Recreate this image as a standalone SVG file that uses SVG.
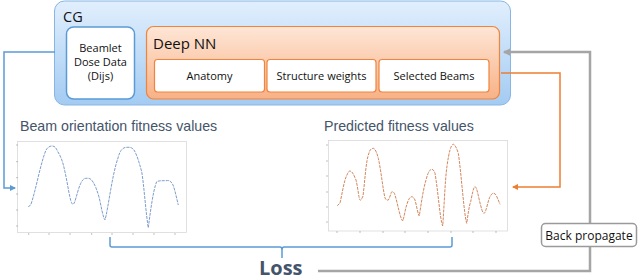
<svg xmlns="http://www.w3.org/2000/svg" width="640" height="279" viewBox="0 0 640 279">
<defs>
<linearGradient id="gBlue" x1="0" y1="0" x2="0" y2="1">
<stop offset="0" stop-color="#e1effd"/>
<stop offset="1" stop-color="#a3cbf2"/>
</linearGradient>
<linearGradient id="gOrange" x1="0" y1="0" x2="0" y2="1">
<stop offset="0" stop-color="#fee6d6"/>
<stop offset="1" stop-color="#f8b186"/>
</linearGradient>
<marker id="aBlue" viewBox="0 0 6 6" refX="5" refY="3" markerWidth="4" markerHeight="4" orient="auto">
<path d="M0,0 L6,3 L0,6 z" fill="#5b9bd5"/>
</marker>
<marker id="aOrange" viewBox="0 0 6 6" refX="5" refY="3" markerWidth="4" markerHeight="4" orient="auto">
<path d="M0,0 L6,3 L0,6 z" fill="#ed7d31"/>
</marker>
<marker id="aGray" viewBox="0 0 6 6" refX="5" refY="3" markerWidth="3" markerHeight="3" orient="auto">
<path d="M0,0 L6,3 L0,6 z" fill="#a5a5a5"/>
</marker>
</defs>
<style>
text{font-family:"Open Sans","Liberation Sans",sans-serif;}
.inner{fill:#fff;stroke:#f0843c;stroke-width:1.2;}
.lbl{font-size:11px;fill:#111;text-anchor:middle;}
.title{font-family:"Liberation Sans",Arial,sans-serif;font-size:14.2px;fill:#44546a;}
.frame{fill:#fff;stroke:#d9d9d9;stroke-width:0.8;}
.tick{stroke:#999;stroke-width:0.6;}
</style>

<g id="cg">
<rect x="54.5" y="1" width="456" height="104" rx="10" fill="url(#gBlue)" stroke="#88b6e2" stroke-width="1"/>
<text x="63" y="22" font-size="14.5" fill="#111">CG</text>
</g>

<g id="beamlet">
<rect x="66.5" y="27" width="68" height="72" rx="7" fill="#fff" stroke="#5b9bd5" stroke-width="1.5"/>
<text class="lbl" x="100.5" y="52">Beamlet</text>
<text class="lbl" x="100.5" y="66">Dose Data</text>
<text class="lbl" x="100.5" y="80">(Dijs)</text>
</g>

<g id="deepnn">
<rect x="146.5" y="26.5" width="353" height="72.5" rx="7" fill="url(#gOrange)" stroke="#f0843c" stroke-width="1.2"/>
<text x="153" y="49" font-size="15" fill="#111">Deep NN</text>
</g>

<g id="anatomy">
<rect class="inner" x="154.5" y="59.5" width="110" height="32.5" rx="3"/>
<text class="lbl" x="209.5" y="79.5">Anatomy</text>
</g>
<g id="structure">
<rect class="inner" x="267" y="59.5" width="109" height="32.5" rx="3"/>
<text class="lbl" x="321.5" y="79.5">Structure weights</text>
</g>
<g id="beams">
<rect class="inner" x="379" y="59.5" width="110" height="32.5" rx="3"/>
<text class="lbl" x="434" y="79.5">Selected Beams</text>
</g>

<g id="plot-left">
<text class="title" x="20" y="131">Beam orientation fitness values</text>
<rect class="frame" x="17.5" y="141.5" width="169" height="91"/>
<g class="tick">
<line x1="16" y1="145" x2="18" y2="145"/><line x1="16" y1="161.7" x2="18" y2="161.7"/><line x1="16" y1="177.7" x2="18" y2="177.7"/><line x1="16" y1="194" x2="18" y2="194"/><line x1="16" y1="210" x2="18" y2="210"/><line x1="16" y1="226" x2="18" y2="226"/>
<line x1="28.7" y1="233" x2="28.7" y2="235"/><line x1="49" y1="233" x2="49" y2="235"/><line x1="70" y1="233" x2="70" y2="235"/><line x1="91.7" y1="233" x2="91.7" y2="235"/><line x1="112" y1="233" x2="112" y2="235"/><line x1="133" y1="233" x2="133" y2="235"/><line x1="154" y1="233" x2="154" y2="235"/><line x1="175" y1="233" x2="175" y2="235"/>
</g>
<path fill="none" stroke="#7d9dcc" stroke-width="1" stroke-dasharray="3 1" d="M28.3,206.7 L30.7,205 C36,190 40,165 46,150 C48,147 50,146 52,146 C55,146 56,148 58,152 C61,157 63,162 65,172 C68,185 70,203 72.7,204.3 C75,205 77,192 80,185 C82,180 84,178.3 86,178.3 C89,178 91,178.5 93,182 C95,185 97,190 99,197 C101,205 103,218 105,220 C108,210 112,175 118,158 C120,150 123,147.3 127,147.3 C130,147 132,147.5 134,150 C137,155 139,162 141.7,171.7 C144,185 146,215 148.3,227.7 C150,215 153,190 156.7,181.7 C158,180.7 162,180.7 166,180.7 C169,180 171,181 173,185 C175,190 177,200 178.3,205"/>
</g>

<g id="plot-right">
<text class="title" x="324" y="131">Predicted fitness values</text>
<rect class="frame" x="328.5" y="140.5" width="179" height="90.5"/>
<g class="tick">
<line x1="326" y1="145" x2="328" y2="145"/><line x1="326" y1="161" x2="328" y2="161"/><line x1="326" y1="176" x2="328" y2="176"/><line x1="326" y1="192" x2="328" y2="192"/><line x1="326" y1="207" x2="328" y2="207"/><line x1="326" y1="222" x2="328" y2="222"/>
<line x1="337" y1="231" x2="337" y2="233"/><line x1="360" y1="231" x2="360" y2="233"/><line x1="383" y1="231" x2="383" y2="233"/><line x1="405" y1="231" x2="405" y2="233"/><line x1="428" y1="231" x2="428" y2="233"/><line x1="451" y1="231" x2="451" y2="233"/><line x1="473" y1="231" x2="473" y2="233"/><line x1="496" y1="231" x2="496" y2="233"/>
</g>
<path fill="none" stroke="#d4875e" stroke-width="1" stroke-dasharray="3 1" d="M337.3,205.7 L340,203 C342,195 344,180 347,175 C348,172 349,171 350,171 C352,171 354,175 356,180 C358,188 359,200 360,200 C361,201 362,198 363,196 C365,180 366,160 369,153 C370,149 372,148.3 373.3,148.3 C375,148.3 377,153 378.3,158.3 C381,170 383,190 385,198 C386,200 387,200.5 388.3,200 C390,198 391,191.7 392,191.7 C393.5,191.7 394.5,193 395,195 C398,205 400,218 402.7,221 C404,218 405,210 406.7,205 C408,200 410,196.7 411.7,196.7 C413,196.7 414,198 415,200 C416.5,205 418,215 419.3,216 C421,205 423,190 426,180 C428,172 430,169.3 431.7,169.3 C433,169.3 434.5,171 435,173.3 C438,190 440,220 442.7,226 C444,210 445,180 447,166 C449,152 451,144.3 453.3,144.3 C455,144.3 457,149 458.3,153.3 C461,170 464,215 466.7,223.3 C468,215 469,206 470.7,201.7 C472,195 473.5,186.7 475,186.7 C476.5,186.7 478,194 479.3,200 C481,207 482.5,213.3 484,213.3 C486,213.3 488,200 490,196.7 C491,195 492,193.3 493.3,193.3 C494.5,193.3 495.5,194 496,195 C498,199 499,202 500,204.3"/>
</g>

<g id="connectors" fill="none">
<polyline points="55,52 4,52 4,188 15,188" stroke="#5b9bd5" stroke-width="1.5" marker-end="url(#aBlue)"/>
<polyline points="501,73 560,73 560,187 513,187" stroke="#ed7d31" stroke-width="1.5" marker-end="url(#aOrange)"/>
<polyline points="318,271 590,271 590,52 504,52" stroke="#a5a5a5" stroke-width="2.5" marker-end="url(#aGray)"/>
<path d="M110,237 L110,245 Q110,247 112,247 L280,247 Q282,247 282,250 L282,258 M282,250 Q282,247 284,247 L450,247 Q452,247 452,245 L452,237" stroke="#5b9bd5" stroke-width="1.5"/>
</g>

<g id="loss">
<text x="259" y="274.5" font-family="Liberation Sans,Arial,sans-serif" font-size="20" font-weight="bold" fill="#44546a">Loss</text>
</g>

<g id="backprop">
<rect x="541.5" y="223.5" width="95" height="23" rx="4" fill="#fff" stroke="#9a9a9a" stroke-width="1.5"/>
<text x="589" y="239.5" font-size="12" fill="#111" text-anchor="middle">Back propagate</text>
</g>
</svg>
